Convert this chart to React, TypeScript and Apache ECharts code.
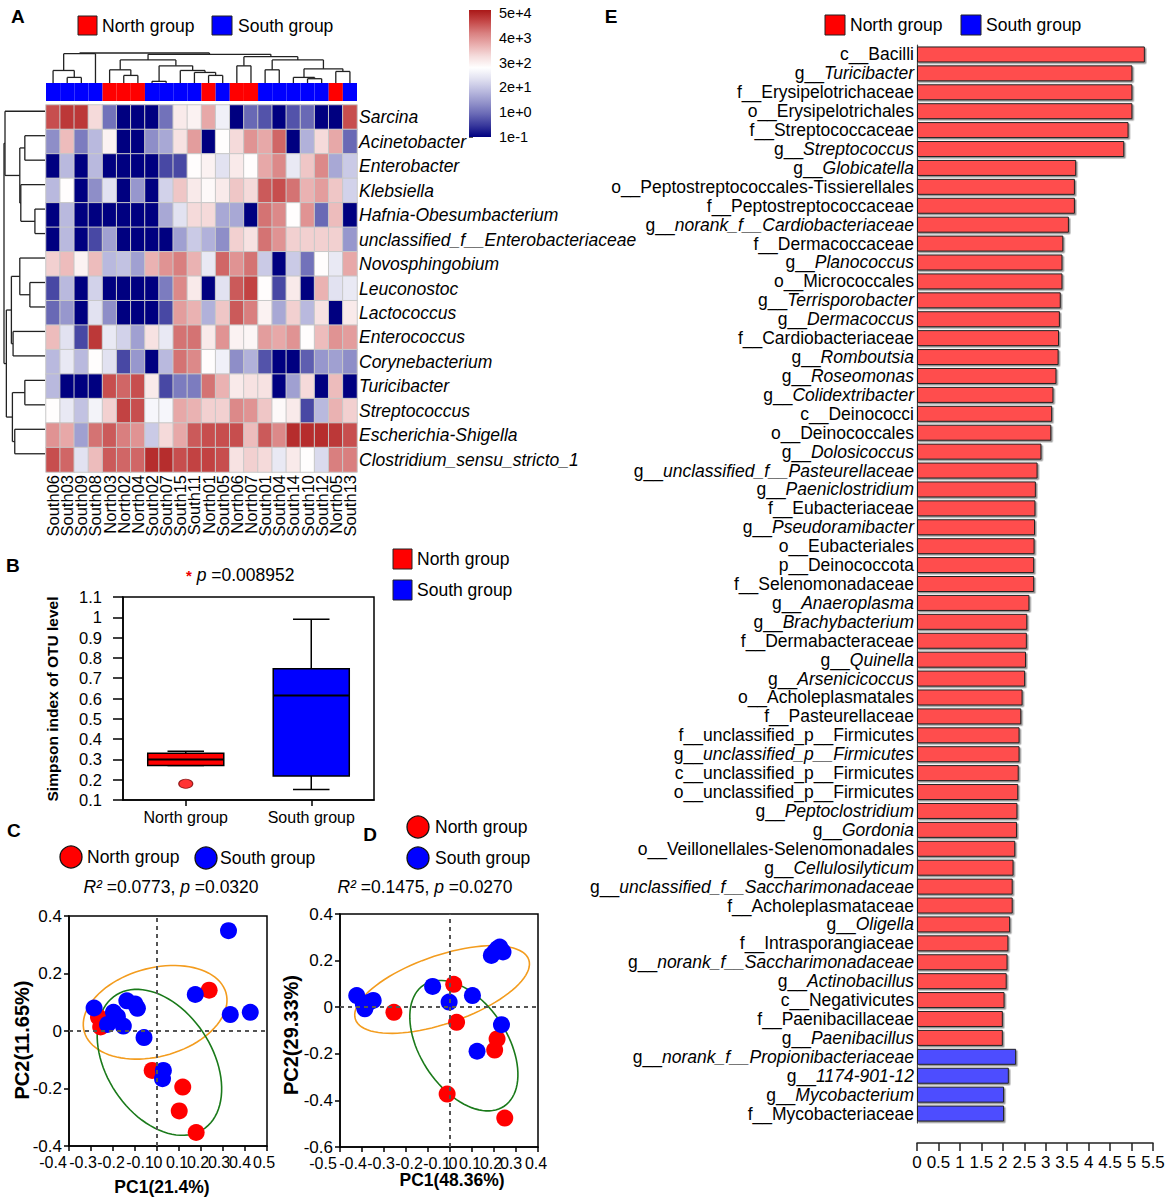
import React, { useEffect, useRef } from 'react';
import * as echarts from 'echarts';

const FONT = 'Liberation Sans, Arial, Helvetica, sans-serif';

// ---------------- Panel A : heatmap ----------------
const samples = ['South06', 'South03', 'South09', 'South08', 'North03', 'North02', 'North04', 'South02', 'South07', 'South15', 'South11', 'North01', 'South05', 'North06', 'North07', 'South01', 'South04', 'South14', 'South10', 'South12', 'North05', 'South13'];
const genera = ['Sarcina', 'Acinetobacter', 'Enterobacter', 'Klebsiella', 'Hafnia-Obesumbacterium', 'unclassified_f__Enterobacteriaceae', 'Novosphingobium', 'Leuconostoc', 'Lactococcus', 'Enterococcus', 'Corynebacterium', 'Turicibacter', 'Streptococcus', 'Escherichia-Shigella', 'Clostridium_sensu_stricto_1'];
// abundance level on colour-bar scale (0 = 1e-1 ... 5 = 5e+4)
const levelSarcina = [4.5, 4.7, 4.7, 3.2, 1.0, 0, 0, 0, 1.0, 3.0, 2.9, 3.7, 2.5, 0, 0.9, 0.7, 0, 0.7, 0.9, 0, 0, 4.5];
const levelAcinetobacter = [1.3, 3.5, 1.1, 1.8, 2.9, 0, 0, 1.3, 1.6, 3.1, 3.8, 0, 2.75, 3.2, 3.9, 3.7, 4.3, 0, 1.7, 3.2, 3.7, 0.9];
const levelEnterobacter = [0, 1.8, 0, 1.8, 0, 0, 0, 0, 0.6, 0.6, 2.75, 2.9, 2.3, 3.0, 2.75, 3.7, 4.0, 2.4, 3.4, 4.0, 1.6, 2.0];
const levelKlebsiella = [1.8, 2.75, 0, 1.3, 2.3, 0, 1.4, 0, 2.1, 3.4, 3.0, 2.8, 3.0, 3.4, 3.2, 4.4, 4.5, 4.2, 3.6, 3.8, 3.4, 2.1];
const levelHafnia = [0, 1.8, 0, 0, 0, 0, 0, 0, 1.6, 2.3, 3.2, 3.2, 1.6, 1.6, 0, 4.2, 4.0, 2.75, 3.9, 0.9, 3.5, 0];
const levelUnclEntero = [0, 1.8, 0, 0.6, 1.5, 0, 0, 0, 0, 1.5, 2.0, 1.7, 1.3, 3.3, 3.1, 4.2, 3.9, 3.3, 3.3, 3.3, 3.3, 1.4];
const levelNovosphingobium = [3.3, 3.5, 2.9, 3.5, 1.8, 1.9, 1.5, 3.6, 3.9, 4.1, 3.6, 2.4, 4.3, 3.9, 4.2, 2.0, 0, 2.0, 1.0, 2.75, 2.4, 3.7];
const levelLeuconostoc = [0.6, 1.8, 0, 2.1, 0, 0, 0, 0, 1.1, 4.0, 3.0, 0, 2.3, 4.4, 4.6, 2.75, 0.6, 3.0, 0, 3.6, 2.3, 2.4];
const levelLactococcus = [0.9, 1.4, 0, 2.3, 1.3, 0, 0, 0, 0.6, 3.8, 3.6, 1.7, 3.4, 4.4, 4.1, 2.9, 1.6, 3.3, 1.8, 3.1, 0, 3.0];
const levelEnterococcus = [3.5, 2.3, 0.6, 4.7, 2.4, 2.1, 1.5, 3.1, 2.4, 4.2, 4.2, 3.0, 3.9, 2.9, 2.85, 3.8, 3.7, 3.9, 2.75, 3.5, 3.9, 3.8];
const levelCorynebacterium = [1.8, 2.4, 1.8, 2.75, 2.3, 0.6, 1.4, 0, 1.8, 4.2, 4.0, 2.75, 2.5, 1.3, 1.7, 0.7, 0, 0, 0.8, 1.4, 1.5, 1.3];
const levelTuricibacter = [1.8, 0, 0, 0, 4.5, 4.3, 4.5, 3.0, 0.6, 1.1, 1.1, 4.2, 3.6, 3.0, 3.1, 3.1, 0, 1.5, 3.2, 0, 3.5, 0];
const levelStreptococcus = [2.75, 2.4, 1.9, 2.55, 3.3, 4.6, 4.5, 2.6, 2.6, 3.7, 3.6, 3.3, 3.3, 4.0, 3.9, 3.4, 2.8, 3.0, 0.6, 1.8, 3.6, 3.3];
const levelEscherichia = [3.9, 3.7, 1.5, 4.2, 4.4, 4.1, 3.9, 2.0, 3.2, 3.7, 4.4, 4.5, 4.5, 4.5, 3.5, 4.4, 4.0, 4.8, 4.8, 4.8, 4.7, 4.5];
const levelClostridium = [4.5, 4.3, 2.3, 3.5, 4.4, 4.3, 4.3, 4.8, 4.8, 4.5, 4.6, 4.6, 4.5, 3.1, 3.3, 3.2, 2.4, 3.0, 2.75, 2.2, 4.1, 4.1];
const abundanceRows = [levelSarcina, levelAcinetobacter, levelEnterobacter, levelKlebsiella, levelHafnia, levelUnclEntero, levelNovosphingobium, levelLeuconostoc, levelLactococcus, levelEnterococcus, levelCorynebacterium, levelTuricibacter, levelStreptococcus, levelEscherichia, levelClostridium];
const colorbarLabels = ['1e-1', '1e+0', '2e+1', '3e+2', '4e+3', '5e+4'];
// dendrogram merges: [left id, right id, height]; ids >= n are earlier merges
const sampleMerges = [[1, 2, 17], [0, 22, 38], [23, 3, 89], [5, 6, 23], [4, 25, 40], [7, 8, 5], [11, 12, 23], [10, 28, 32], [9, 29, 38], [27, 30, 52], [26, 31, 70], [13, 14, 52], [15, 16, 40], [18, 19, 13], [17, 35, 17], [20, 21, 35], [36, 37, 43], [34, 38, 70], [33, 39, 80], [32, 40, 87], [24, 41, 91]];
const genusMerges = [[1, 2, 60], [4, 5, 30], [3, 16, 72], [15, 17, 75], [0, 18, 119], [7, 8, 45], [6, 20, 75], [9, 10, 95], [21, 22, 100], [11, 12, 60], [13, 14, 90], [24, 25, 97], [23, 26, 115], [19, 27, 122]];

// ---------------- Panel B : Simpson boxplot ----------------
const boxGroups = ['North group', 'South group'];
const simpsonNorth = [0.27, 0.27, 0.30, 0.33, 0.34]; // min, Q1, median, Q3, max
const simpsonSouth = [0.152, 0.218, 0.615, 0.747, 0.99];
const simpsonOutliers = [[0, 0.18]];

// ---------------- Panel C : PCoA ----------------
const pcoaCNorth = [[0.237, 0.142], [-0.266, 0.048], [-0.256, 0.014], [-0.022, -0.137], [0.117, -0.195], [0.101, -0.278], [0.178, -0.353]];
const pcoaCSouth = [[0.325, 0.349], [0.174, 0.127], [0.333, 0.057], [0.424, 0.065], [-0.286, 0.080], [-0.137, 0.105], [-0.100, 0.094], [-0.089, 0.079], [-0.198, 0.065], [-0.180, 0.050], [-0.225, 0.023], [-0.153, 0.017], [-0.059, -0.023], [0.029, -0.137], [0.025, -0.166]];
// ellipse: [cx, cy, axis1x, axis1y, axis2x, axis2y] in data units
const ellipseCSouth = [-0.0085, 0.065, 0.322, 0.068, 0.055, -0.148];
const ellipseCNorth = [0.011, -0.109, 0.195, -0.235, -0.205, -0.096];

// ---------------- Panel D : PCA ----------------
const pcaDNorth = [[0.017, 0.098], [-0.255, -0.022], [0.030, -0.065], [0.214, -0.136], [0.203, -0.184], [-0.013, -0.373], [0.249, -0.476]];
const pcaDSouth = [[0.226, 0.258], [0.203, 0.237], [0.241, 0.237], [0.188, 0.222], [0.215, 0.250], [-0.424, 0.050], [-0.394, 0.014], [-0.349, 0.029], [-0.387, -0.007], [-0.370, 0.020], [-0.079, 0.089], [-0.004, 0.022], [0.102, 0.050], [0.234, -0.075], [0.123, -0.189]];
const ellipseDSouth = [-0.036, 0.076, 0.394, 0.128, 0.050, -0.138];
const ellipseDNorth = [0.063, -0.165, 0.183, -0.260, -0.164, -0.104];

// ---------------- Panel E : LEfSe LDA ----------------
const lefseTaxa = ['c__Bacilli', 'g__Turicibacter', 'f__Erysipelotrichaceae', 'o__Erysipelotrichales', 'f__Streptococcaceae', 'g__Streptococcus', 'g__Globicatella', 'o__Peptostreptococcales-Tissierellales', 'f__Peptostreptococcaceae', 'g__norank_f__Cardiobacteriaceae', 'f__Dermacoccaceae', 'g__Planococcus', 'o__Micrococcales', 'g__Terrisporobacter', 'g__Dermacoccus', 'f__Cardiobacteriaceae', 'g__Romboutsia', 'g__Roseomonas', 'g__Colidextribacter', 'c__Deinococci', 'o__Deinococcales', 'g__Dolosicoccus', 'g__unclassified_f__Pasteurellaceae', 'g__Paeniclostridium', 'f__Eubacteriaceae', 'g__Pseudoramibacter', 'o__Eubacteriales', 'p__Deinococcota', 'f__Selenomonadaceae', 'g__Anaeroplasma', 'g__Brachybacterium', 'f__Dermabacteraceae', 'g__Quinella', 'g__Arsenicicoccus', 'o__Acholeplasmatales', 'f__Pasteurellaceae', 'f__unclassified_p__Firmicutes', 'g__unclassified_p__Firmicutes', 'c__unclassified_p__Firmicutes', 'o__unclassified_p__Firmicutes', 'g__Peptoclostridium', 'g__Gordonia', 'o__Veillonellales-Selenomonadales', 'g__Cellulosilyticum', 'g__unclassified_f__Saccharimonadaceae', 'f__Acholeplasmataceae', 'g__Oligella', 'f__Intrasporangiaceae', 'g__norank_f__Saccharimonadaceae', 'g__Actinobacillus', 'c__Negativicutes', 'f__Paenibacillaceae', 'g__Paenibacillus', 'g__norank_f__Propionibacteriaceae', 'g__1174-901-12', 'g__Mycobacterium', 'f__Mycobacteriaceae'];
const lefseLDA = [5.31, 5.02, 5.02, 5.02, 4.93, 4.83, 3.71, 3.68, 3.68, 3.54, 3.41, 3.39, 3.39, 3.35, 3.33, 3.31, 3.30, 3.25, 3.18, 3.15, 3.13, 2.90, 2.81, 2.77, 2.76, 2.75, 2.74, 2.73, 2.73, 2.62, 2.57, 2.56, 2.54, 2.52, 2.46, 2.43, 2.39, 2.39, 2.37, 2.36, 2.34, 2.33, 2.29, 2.25, 2.23, 2.23, 2.17, 2.13, 2.11, 2.09, 2.04, 2.00, 2.00, 2.31, 2.14, 2.03, 2.03];
const lefseGroup = ['North', 'North', 'North', 'North', 'North', 'North', 'North', 'North', 'North', 'North', 'North', 'North', 'North', 'North', 'North', 'North', 'North', 'North', 'North', 'North', 'North', 'North', 'North', 'North', 'North', 'North', 'North', 'North', 'North', 'North', 'North', 'North', 'North', 'North', 'North', 'North', 'North', 'North', 'North', 'North', 'North', 'North', 'North', 'North', 'North', 'North', 'North', 'North', 'North', 'North', 'North', 'North', 'North', 'South', 'South', 'South', 'South'];

// ---------------- styles ----------------
const RED = '#FF0000';
const BLUE = '#0000FF';
const BAR_RED = '#FF4D4D';
const BAR_BLUE = '#4D4DFF';
const HEAT_COLORS = ['#000080', '#38389C', '#6A6AB6', '#9494CB', '#BBBBDF', '#E0E0F0', '#FFFFFF', '#F5DCDC', '#E9AEAE', '#D98080', '#C54848', '#AA1818'];
const C_SHIFT = [-16, -8, -2, 5, 1, -2, -3, -4, -5, -3];
const D_SHIFT = [-17, -9, -3, 3, 9, 3, -2, -3, -5, -2];

function dendroSegments(merges: number[][], n: number) {
  const pos: number[] = [];
  const h: number[] = [];
  for (let i = 0; i < n; i++) { pos[i] = i + 0.5; h[i] = 0; }
  const segs: number[][] = [];
  merges.forEach(([a, b, height], k) => {
    segs.push([pos[a], h[a], pos[a], height]);
    segs.push([pos[b], h[b], pos[b], height]);
    segs.push([pos[a], height, pos[b], height]);
    pos[n + k] = (pos[a] + pos[b]) / 2;
    h[n + k] = height;
  });
  return segs;
}

const segRender = (params: any, api: any) => {
  const p1 = api.coord([api.value(0), api.value(1)]);
  const p2 = api.coord([api.value(2), api.value(3)]);
  return { type: 'line', shape: { x1: p1[0], y1: p1[1], x2: p2[0], y2: p2[1] }, style: { stroke: '#222', lineWidth: 1.3 } };
};

const ellipseRender = (params: any, api: any) => {
  const v = [0, 1, 2, 3, 4, 5].map((i) => api.value(i));
  const pts: number[][] = [];
  for (let k = 0; k <= 90; k++) {
    const t = (k / 90) * Math.PI * 2;
    pts.push(api.coord([v[0] + v[2] * Math.cos(t) + v[4] * Math.sin(t), v[1] + v[3] * Math.cos(t) + v[5] * Math.sin(t)]));
  }
  return { type: 'polygon', shape: { points: pts }, style: { fill: 'none', stroke: api.visual('color'), lineWidth: 1.6 } };
};

const boxRender = (params: any, api: any) => {
  const ci = api.value(0);
  const vals = [1, 2, 3, 4, 5].map((i) => api.value(i));
  const band = api.size([1, 0])[0];
  const half = band * 0.303;
  const cap = half * 0.48;
  const pLo = api.coord([ci, vals[0]]);
  const pQ1 = api.coord([ci, vals[1]]);
  const pMed = api.coord([ci, vals[2]]);
  const pQ3 = api.coord([ci, vals[3]]);
  const pHi = api.coord([ci, vals[4]]);
  const x = pMed[0];
  const st = { stroke: '#000', lineWidth: 1.5 };
  return {
    type: 'group',
    children: [
      { type: 'line', shape: { x1: x, y1: pHi[1], x2: x, y2: pQ3[1] }, style: st },
      { type: 'line', shape: { x1: x, y1: pQ1[1], x2: x, y2: pLo[1] }, style: st },
      { type: 'line', shape: { x1: x - cap, y1: pHi[1], x2: x + cap, y2: pHi[1] }, style: st },
      { type: 'line', shape: { x1: x - cap, y1: pLo[1], x2: x + cap, y2: pLo[1] }, style: st },
      { type: 'rect', shape: { x: x - half, y: pQ3[1], width: half * 2, height: pQ1[1] - pQ3[1] }, style: { fill: api.visual('color'), stroke: '#000', lineWidth: 1.5 } },
      { type: 'line', shape: { x1: x - half, y1: pMed[1], x2: x + half, y2: pMed[1] }, style: { stroke: '#000', lineWidth: 2 } },
    ],
  };
};

function shiftRich(shifts: number[], size: number) {
  const rich: any = {};
  shifts.forEach((s, i) => {
    rich['s' + i] = { fontSize: size, fontFamily: FONT, color: '#000', padding: s < 0 ? [0, -2 * s, 0, 0] : [0, 0, 0, 2 * s] };
  });
  return rich;
}
const fmtTick = (v: number) => String(Math.round(v * 10) / 10);

function frameAxis(extra: any) {
  return {
    axisLine: { show: true, onZero: false, lineStyle: { color: '#000', width: 1.5 } },
    axisTick: { show: true, length: 5, lineStyle: { color: '#000', width: 1.5 } },
    splitLine: { show: false },
    ...extra,
  };
}

function txt(text: string, x: number, y: number, size: number, extra: any = {}) {
  return {
    type: 'text', x, y, z: 10, rotation: extra.rotation || 0,
    style: { text, fill: '#000', fontSize: size, fontFamily: FONT, fontWeight: extra.bold ? 'bold' : 'normal', textAlign: extra.align || 'left', textVerticalAlign: 'middle', rich: extra.rich },
  };
}
function sq(x: number, y: number, w: number, h: number, fill: string) {
  return { type: 'rect', z: 10, shape: { x, y, width: w, height: h }, style: { fill, stroke: '#222', lineWidth: 1 } };
}
function dot(cx: number, cy: number, fill: string) {
  return { type: 'circle', z: 10, shape: { cx, cy, r: 11 }, style: { fill, stroke: '#111', lineWidth: 1.3 } };
}

function buildOption() {
  const heatData: number[][] = [];
  abundanceRows.forEach((row, r) => row.forEach((v, c) => heatData.push([c, r, v])));
  const colSegs = dendroSegments(sampleMerges, samples.length);
  const rowSegs = dendroSegments(genusMerges, genera.length).map(([p1, h1, p2, h2]) => [h1, p1, h2, p2]);
  const stripData = samples.map((s) => ({ value: 1, itemStyle: { color: s.startsWith('North') ? RED : BLUE } }));
  const barData = lefseLDA.map((v, i) => ({ value: v, itemStyle: { color: lefseGroup[i] === 'North' ? BAR_RED : BAR_BLUE } }));
  const nStops = HEAT_COLORS.length - 1;
  const gradStops = HEAT_COLORS.map((c, i) => ({ offset: i / nStops, color: HEAT_COLORS[nStops - i] }));
  const rs = { fontSize: 17.5, fontFamily: FONT };
  const stat = { i: { ...rs, fontStyle: 'italic', fill: '#000' }, s: { fontSize: 15, fill: '#e00', fontWeight: 'bold' } };
  const edgeLabels = { showMinLabel: true, showMaxLabel: true };

  return {
    animation: false,
    backgroundColor: '#fff',
    textStyle: { fontFamily: FONT, color: '#000' },
    visualMap: { type: 'continuous', show: false, min: 0, max: 5, dimension: 2, seriesIndex: 0, inRange: { color: HEAT_COLORS } },
    grid: [
      { left: 46, top: 105, width: 311, height: 367 },
      { left: 46, top: 83, width: 311, height: 18 },
      { left: 46, top: 53, width: 311, height: 30 },
      { left: 4, top: 99, width: 41, height: 367 },
      { left: 469, top: 13, width: 22, height: 124 },
      { left: 123, top: 597, width: 251, height: 203, show: true, borderColor: '#000', borderWidth: 1.5 },
      { left: 69, top: 916, width: 198, height: 230, show: true, borderColor: '#000', borderWidth: 1.5 },
      { left: 340, top: 914, width: 198, height: 233, show: true, borderColor: '#000', borderWidth: 1.5 },
      { left: 917, top: 45, width: 236, height: 1078 },
    ],
    xAxis: [
      { type: 'category', gridIndex: 0, data: samples, axisLine: { show: false }, axisTick: { show: false }, axisLabel: { interval: 0, rotate: 90, fontSize: 16.5, margin: 3, color: '#000' } },
      { type: 'category', gridIndex: 1, data: samples, show: false },
      { type: 'value', gridIndex: 2, min: 0, max: 22, show: false },
      { type: 'value', gridIndex: 3, min: 0, max: 122, inverse: true, show: false },
      { type: 'value', gridIndex: 4, min: 0, max: 1, show: false },
      frameAxis({ type: 'category', gridIndex: 5, data: boxGroups, axisTick: { show: true, alignWithLabel: true, length: 6, lineStyle: { color: '#000', width: 1.5 } }, axisLabel: { fontSize: 16, margin: 9, color: '#000' } }),
      frameAxis({ type: 'value', gridIndex: 6, min: -0.4, max: 0.5, interval: 0.1, axisLabel: { ...edgeLabels, margin: 8, formatter: (v: number, i: number) => `{s${i}|${fmtTick(v)}}`, rich: shiftRich(C_SHIFT, 16) } }),
      frameAxis({ type: 'value', gridIndex: 7, min: -0.5, max: 0.4, interval: 0.1, axisLabel: { ...edgeLabels, margin: 8, formatter: (v: number, i: number) => `{s${i}|${fmtTick(v)}}`, rich: shiftRich(D_SHIFT, 16) } }),
      { type: 'value', gridIndex: 8, min: 0, max: 5.5, interval: 0.5, offset: 20, axisLine: { show: true, onZero: false, lineStyle: { color: '#222', width: 1.5 } }, axisTick: { show: true, length: 8, lineStyle: { color: '#222', width: 1.5 } }, axisLabel: { ...edgeLabels, fontSize: 17, margin: 11, color: '#000' }, splitLine: { show: false } },
    ],
    yAxis: [
      { type: 'category', gridIndex: 0, data: genera, inverse: true, position: 'right', axisLine: { show: false }, axisTick: { show: false }, axisLabel: { interval: 0, fontSize: 17.5, fontStyle: 'italic', margin: 2, color: '#000' } },
      { type: 'value', gridIndex: 1, min: 0, max: 1, show: false },
      { type: 'value', gridIndex: 2, min: 0, max: 91, show: false },
      { type: 'value', gridIndex: 3, min: 0, max: 15, inverse: true, show: false },
      { type: 'value', gridIndex: 4, min: 0, max: 5, interval: 1, position: 'right', axisLine: { show: false }, axisTick: { show: true, length: 4, lineStyle: { color: '#555' } }, splitLine: { show: false }, axisLabel: { ...edgeLabels, fontSize: 14.5, margin: 8, color: '#000', formatter: (v: number) => colorbarLabels[Math.round(v)] } },
      frameAxis({ type: 'value', gridIndex: 5, min: 0.1, max: 1.1, interval: 0.1, axisTick: { show: true, length: 10, lineStyle: { color: '#000', width: 1.5 } }, axisLabel: { ...edgeLabels, fontSize: 16.5, margin: 21, color: '#000' } }),
      frameAxis({ type: 'value', gridIndex: 6, min: -0.4, max: 0.4, interval: 0.2, axisLabel: { ...edgeLabels, fontSize: 17, margin: 7, color: '#000' } }),
      frameAxis({ type: 'value', gridIndex: 7, min: -0.6, max: 0.4, interval: 0.2, axisLabel: { ...edgeLabels, fontSize: 17, margin: 7, color: '#000' } }),
      {
        type: 'category', gridIndex: 8, data: lefseTaxa, inverse: true,
        axisLine: { show: true, lineStyle: { color: '#444', width: 1.2 } }, axisTick: { show: false },
        axisLabel: {
          interval: 0, margin: 3,
          formatter: (v: string) => {
            if (v.startsWith('g__')) return `{n|g__}{i|${v.slice(3)}}`;
            return `{n|${v}}`;
          },
          rich: { n: { ...rs, color: '#000' }, i: { ...rs, fontStyle: 'italic', color: '#000' } },
        },
      },
    ],
    series: [
      { type: 'heatmap', xAxisIndex: 0, yAxisIndex: 0, data: heatData, itemStyle: { borderColor: '#C8C8C8', borderWidth: 1 } },
      { type: 'bar', xAxisIndex: 1, yAxisIndex: 1, data: stripData, barCategoryGap: '0%', barWidth: '100%' },
      { type: 'custom', xAxisIndex: 2, yAxisIndex: 2, data: colSegs, renderItem: segRender },
      { type: 'custom', xAxisIndex: 3, yAxisIndex: 3, data: rowSegs, renderItem: segRender },
      {
        type: 'custom', xAxisIndex: 5, yAxisIndex: 5, renderItem: boxRender,
        data: [{ value: [0, ...simpsonNorth], itemStyle: { color: RED } }, { value: [1, ...simpsonSouth], itemStyle: { color: BLUE } }],
      },
      { type: 'scatter', xAxisIndex: 5, yAxisIndex: 5, data: simpsonOutliers, symbol: 'circle', symbolSize: [14, 9], itemStyle: { color: RED, borderColor: '#700', borderWidth: 1 } },
      {
        type: 'scatter', xAxisIndex: 6, yAxisIndex: 6, data: [], z: 1,
        markLine: { silent: true, symbol: ['none', 'none'], label: { show: false }, lineStyle: { color: '#555', type: [4, 4], width: 2 }, data: [{ xAxis: 0 }, { yAxis: 0 }] },
      },
      { type: 'custom', xAxisIndex: 6, yAxisIndex: 6, z: 2, renderItem: ellipseRender, data: [{ value: ellipseCSouth, itemStyle: { color: '#F39C1E' } }, { value: ellipseCNorth, itemStyle: { color: '#1A7A1A' } }] },
      { type: 'scatter', xAxisIndex: 6, yAxisIndex: 6, z: 3, data: pcoaCNorth, symbolSize: 17, itemStyle: { color: RED, opacity: 1 } },
      { type: 'scatter', xAxisIndex: 6, yAxisIndex: 6, z: 3, data: pcoaCSouth, symbolSize: 17, itemStyle: { color: BLUE, opacity: 1 } },
      {
        type: 'scatter', xAxisIndex: 7, yAxisIndex: 7, data: [], z: 1,
        markLine: { silent: true, symbol: ['none', 'none'], label: { show: false }, lineStyle: { color: '#555', type: [4, 4], width: 2 }, data: [{ xAxis: 0 }, { yAxis: 0 }] },
      },
      { type: 'custom', xAxisIndex: 7, yAxisIndex: 7, z: 2, renderItem: ellipseRender, data: [{ value: ellipseDSouth, itemStyle: { color: '#F39C1E' } }, { value: ellipseDNorth, itemStyle: { color: '#1A7A1A' } }] },
      { type: 'scatter', xAxisIndex: 7, yAxisIndex: 7, z: 3, data: pcaDNorth, symbolSize: 17, itemStyle: { color: RED, opacity: 1 } },
      { type: 'scatter', xAxisIndex: 7, yAxisIndex: 7, z: 3, data: pcaDSouth, symbolSize: 17, itemStyle: { color: BLUE, opacity: 1 } },
      { type: 'bar', xAxisIndex: 8, yAxisIndex: 8, data: barData, barWidth: 16, itemStyle: { borderColor: '#222', borderWidth: 1, shadowColor: 'rgba(60,60,60,0.55)', shadowOffsetX: 1.5, shadowOffsetY: 1.5, shadowBlur: 0 } },
    ],
    graphic: [
      // colour bar
      { type: 'rect', z: 5, shape: { x: 469, y: 10, width: 22, height: 127 }, style: { fill: new echarts.graphic.LinearGradient(0, 0, 0, 1, gradStops), stroke: 'none' } },
      // panel A
      txt('A', 11, 16, 19, { bold: true }),
      sq(78, 16, 19, 19, RED), txt('North group', 102, 26, 17.5),
      sq(212, 16, 20, 19, BLUE), txt('South group', 238, 26, 17.5),
      // panel B
      txt('B', 6, 565, 19, { bold: true }),
      txt('{s|*} {i|p} =0.008952', 186, 575, 17.5, { rich: stat }),
      sq(393, 549, 19, 20, RED), txt('North group', 417, 559, 17.5),
      sq(393, 580, 19, 20, BLUE), txt('South group', 417, 590, 17.5),
      txt('Simpson index of OTU level', 52, 699, 15.5, { bold: true, align: 'center', rotation: Math.PI / 2 }),
      // panel C
      txt('C', 7, 830, 19, { bold: true }),
      dot(71, 857, RED), txt('North group', 87, 857, 17.5),
      dot(206, 858, BLUE), txt('South group', 220, 858, 17.5),
      txt('{i|R²} =0.0773, {i|p} =0.0320', 171, 887, 17.5, { align: 'center', rich: stat }),
      txt('PC1(21.4%)', 162, 1187, 17.5, { bold: true, align: 'center' }),
      txt('PC2(11.65%)', 22, 1040, 20, { bold: true, align: 'center', rotation: Math.PI / 2 }),
      // panel D
      txt('D', 370, 834, 19, { bold: true, align: 'center' }),
      dot(418, 827, RED), txt('North group', 435, 827, 17.5),
      dot(418, 858, BLUE), txt('South group', 435, 858, 17.5),
      txt('{i|R²} =0.1475, {i|p} =0.0270', 425, 887, 17.5, { align: 'center', rich: stat }),
      txt('PC1(48.36%)', 452, 1180, 17.5, { bold: true, align: 'center' }),
      txt('PC2(29.33%)', 291, 1035, 20, { bold: true, align: 'center', rotation: Math.PI / 2 }),
      // panel E
      txt('E', 611, 16, 19, { bold: true, align: 'center' }),
      sq(825, 15, 20, 20, RED), txt('North group', 850, 25, 17.5),
      sq(961, 15, 20, 20, BLUE), txt('South group', 986, 25, 17.5),
    ],
  };
}

export default function App() {
  const ref = useRef<HTMLDivElement>(null);
  useEffect(() => {
    const chart = echarts.init(ref.current as HTMLDivElement, null, { renderer: 'svg' });
    chart.setOption(buildOption() as any);
    return () => chart.dispose();
  }, []);
  return <div ref={ref} style={{ position: 'absolute', left: 0, top: 0, width: 1170, height: 1203, background: '#fff' }} />;
}
